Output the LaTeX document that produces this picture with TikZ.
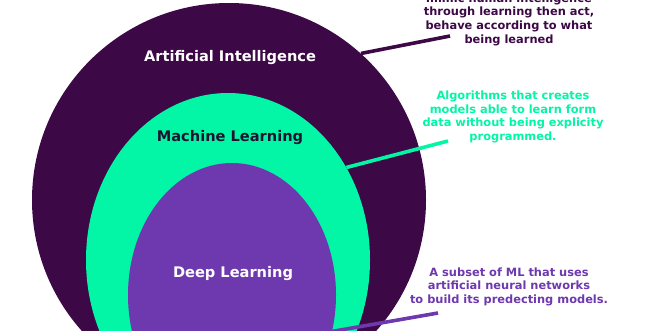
\documentclass[tikz,border=0pt]{standalone}
\usepackage{fontspec}
\setmainfont{DejaVu Sans}
\usetikzlibrary{shapes.geometric}
\definecolor{aicol}{HTML}{3C0845}
\definecolor{mlcol}{HTML}{03F5A6}
\definecolor{dlcol}{HTML}{6E38AE}
\definecolor{mltext}{HTML}{1E1432}
\tikzset{
  blob/.style={ellipse, inner sep=0pt, draw=none},
  title/.style={font=\fontsize{14.6}{17}\selectfont\bfseries, inner sep=0pt},
  note/.style={font=\fontsize{11.4}{13.6}\selectfont\bfseries, align=center, inner sep=0pt},
  conn/.style={line width=3.6pt}
}
\begin{document}
\begin{tikzpicture}[x=1pt,y=-1pt]
\useasboundingbox (0,0) rectangle (660,330);
\clip (0,0) rectangle (660,330);
\fill[white] (0,0) rectangle (660,330);
\node[blob, fill=aicol, minimum width=394pt, minimum height=394pt] (ai) at (229,200) {};
\node[blob, fill=mlcol, minimum width=284pt, minimum height=334pt] (ml) at (228,260) {};
\node[blob, fill=dlcol, minimum width=208pt, minimum height=264pt] (dl) at (232,295) {};
\node[title, text=white] (ailab) at (230,58) {Artificial Intelligence};
\node[title, text=mltext] (mllab) at (230,138) {Machine Learning};
\node[title, text=white] (dllab) at (233,274) {Deep Learning};
\node[note, text=aicol] (ainote) at (509,19.5) {mimic human intelligence\\through learning then act,\\behave according to what\\being learned};
\node[note, text=mlcol] (mlnote) at (513,117) {Algorithms that creates\\models able to learn form\\data without being explicity\\programmed.};
\node[note, text=dlcol] (dlnote) at (509,286.5) {A subset of ML that uses\\artificial neural networks\\to build its predecting models.};
\coordinate (aiend) at (450,36);
\coordinate (mlend) at (448,141);
\coordinate (dlend) at (438,313);
\draw[conn, draw=aicol] (aiend) -- (ai.48);
\draw[conn, draw=mlcol] (mlend) -- (ml.38.7);
\draw[conn, draw=dlcol] (dlend) -- (dl.-20);
\end{tikzpicture}
\end{document}
